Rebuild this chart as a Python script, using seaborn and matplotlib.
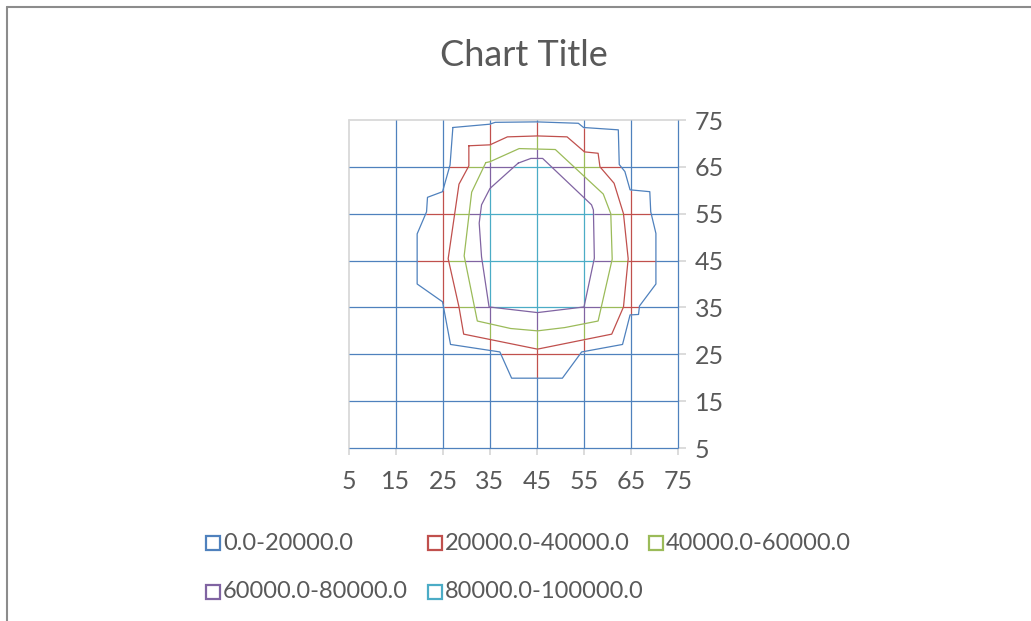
import numpy as np
import pandas as pd
import matplotlib
matplotlib.use("Agg")
import matplotlib.pyplot as plt
import seaborn as sns
from matplotlib.path import Path
from matplotlib.lines import Line2D

# Band labels and colours (lowest band first)
bands = ["0.0-20000.0", "20000.0-40000.0", "40000.0-60000.0",
         "60000.0-80000.0", "80000.0-100000.0"]
band_colors = ["#4F81BD", "#C0504D", "#9BBB59", "#8064A2", "#4BACC6"]

# Axis ticks
x_ticks = [5, 15, 25, 35, 45, 55, 65, 75]
y_ticks = [5, 15, 25, 35, 45, 55, 65, 75]

# Contour boundaries (closed polylines) at 20000, 40000, 60000, 80000
c20_x = [27.1, 34.9, 36.1, 44.9, 53.8, 54.9, 62.3, 62.5, 63.7, 64.8, 69.0, 69.2,
         70.3, 70.3, 66.8, 66.6, 64.8, 63.2, 54.5, 50.4, 39.6, 37.1, 26.6, 24.9,
         19.5, 19.5, 21.5, 21.7, 24.9, 26.5, 27.1]
c20_y = [73.4, 74.1, 74.5, 74.6, 74.3, 73.4, 72.9, 65.5, 64.0, 60.1, 59.7, 55.4,
         50.8, 40.0, 35.3, 33.5, 33.4, 27.1, 25.5, 19.9, 19.9, 25.5, 27.1, 36.2,
         40.0, 50.7, 55.4, 58.5, 59.7, 65.4, 73.4]

c40_x = [30.5, 35.0, 38.7, 45.1, 51.4, 55.1, 58.0, 58.4, 61.4, 63.4, 64.4, 63.4,
         60.9, 45.1, 29.4, 28.4, 26.1, 28.4, 30.5, 30.5]
c40_y = [69.5, 69.7, 71.4, 71.6, 71.4, 68.2, 67.9, 65.0, 61.5, 55.0, 45.4, 35.1,
         29.3, 26.1, 29.3, 35.1, 45.4, 61.3, 65.2, 69.5]

c60_x = [34.1, 35.0, 41.2, 48.9, 59.1, 60.7, 61.0, 58.0, 50.9, 45.1, 39.4, 32.3,
         29.5, 31.1, 34.1]
c60_y = [65.9, 66.1, 68.9, 68.7, 59.2, 55.0, 45.3, 32.1, 30.7, 30.0, 30.5, 32.1,
         46.0, 59.6, 65.9]

c80_x = [41.0, 43.7, 46.2, 56.6, 57.0, 57.2, 55.0, 45.1, 34.8, 33.2, 32.7, 33.2,
         35.0, 41.0]
c80_y = [65.8, 66.8, 66.8, 56.9, 55.8, 45.5, 35.1, 33.9, 35.1, 45.8, 53.0, 56.9,
         60.4, 65.8]

contours_x = [c20_x, c40_x, c60_x, c80_x]
contours_y = [c20_y, c40_y, c60_y, c80_y]

sns.set_theme(style="white")
plt.rcParams["font.family"] = ["Lato", "DejaVu Sans"]

W, H = 1031, 621
fig = plt.figure(figsize=(W / 100, H / 100), dpi=100)
fig.patch.set_facecolor("white")
ax = fig.add_axes([349 / W, 1 - 448 / H, 329 / W, 328 / H])
ax.set_xlim(5, 75)
ax.set_ylim(5, 75)

# Band index of any point = number of contour polygons that contain it
paths = [Path(np.column_stack([cx, cy])) for cx, cy in zip(contours_x, contours_y)]


def band_of(pts):
    b = np.zeros(len(pts), dtype=int)
    for p in paths:
        b += p.contains_points(pts).astype(int)
    return b


def draw_mesh_line(fixed, vertical):
    t = np.linspace(5, 75, 1401)
    if vertical:
        pts = np.column_stack([np.full_like(t, fixed), t])
    else:
        pts = np.column_stack([t, np.full_like(t, fixed)])
    b = band_of(pts)
    start = 0
    for i in range(1, len(t) + 1):
        if i == len(t) or b[i] != b[start]:
            t0 = t[start] if start == 0 else 0.5 * (t[start - 1] + t[start])
            t1 = t[i - 1] if i == len(t) else 0.5 * (t[i - 1] + t[i])
            col = band_colors[b[start]]
            if vertical:
                xs, ys = [fixed, fixed], [t0, t1]
            else:
                xs, ys = [t0, t1], [fixed, fixed]
            ax.plot(xs, ys, color=col, lw=0.9, solid_capstyle="butt",
                    zorder=2, clip_on=False)
            start = i


# Back walls
ax.plot([5, 5], [5, 75], color="#D9D9D9", lw=1.3, zorder=1, clip_on=False)
ax.plot([5, 75], [75, 75], color="#D9D9D9", lw=1.3, zorder=1, clip_on=False)

# Wireframe mesh coloured by band
for xv in x_ticks[1:]:
    draw_mesh_line(xv, vertical=True)
for yv in y_ticks[:-1]:
    draw_mesh_line(yv, vertical=False)

# Contour lines
rows = []
for k, (cx, cy) in enumerate(zip(contours_x, contours_y)):
    for i, (xv, yv) in enumerate(zip(cx, cy)):
        rows.append({"level": bands[k], "order": i, "x": xv, "y": yv})
df = pd.DataFrame(rows)
sns.lineplot(data=df, x="x", y="y", hue="level", palette=band_colors[:4],
             sort=False, estimator=None, lw=0.9, legend=False, ax=ax, zorder=3)

for s in ax.spines.values():
    s.set_visible(False)
ax.set_xlabel("")
ax.set_ylabel("")
ax.set_xticks(x_ticks)
ax.set_yticks(y_ticks)
ax.yaxis.tick_right()
ax.tick_params(axis="x", bottom=True, length=5, width=1.3, color="#D9D9D9",
               labelsize=18, labelcolor="#595959", pad=11)
ax.tick_params(axis="y", right=True, left=False, length=6, width=1.3,
               color="#D9D9D9", labelsize=18, labelcolor="#595959", pad=6)

fig.text(524 / W, 1 - 55 / H, "Chart Title", ha="center", va="center",
         fontsize=26, color="#595959")

# Legend
leg_pos = [(213, 543), (435, 543), (656, 543), (213, 592), (435, 592)]
for (mx, my), lab, col in zip(leg_pos, bands, band_colors):
    fig.add_artist(Line2D([mx / W], [1 - my / H], marker="s", markersize=9.5,
                          markerfacecolor="white", markeredgecolor=col,
                          markeredgewidth=1.6, linestyle="none"))
    fig.text((mx + 10) / W, 1 - my / H, lab, ha="left", va="center",
             fontsize=17, color="#595959")

# Chart frame
fig.add_artist(Line2D([7 / W, 7 / W], [0, 1 - 7 / H], color="#8C8C8C", lw=1.5))
fig.add_artist(Line2D([7 / W, 1], [1 - 7 / H, 1 - 7 / H], color="#8C8C8C", lw=1.5))

fig.savefig("out.png", dpi=100, facecolor="white")
